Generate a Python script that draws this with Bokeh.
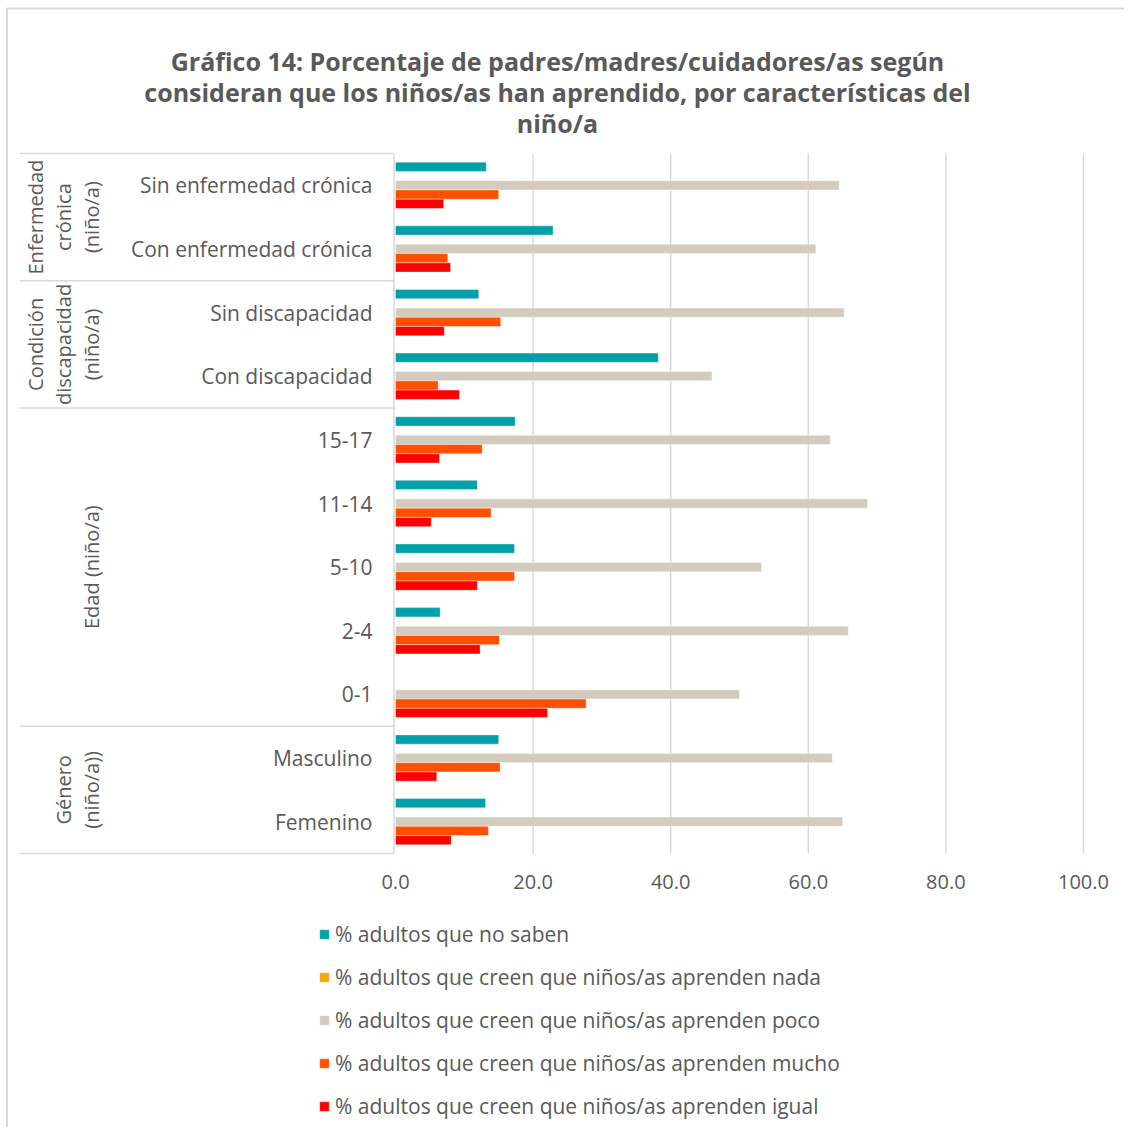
from bokeh.plotting import figure
from bokeh.models import Range1d, FixedTicker, NumeralTickFormatter, Legend, LegendItem, ColumnDataSource
from bokeh.core.properties import value
from bokeh.transform import dodge
from bokeh.embed import file_html
from bokeh.resources import INLINE

# ---------------- data ----------------
categories = ["Sin enfermedad crónica", "Con enfermedad crónica",
              "Sin discapacidad", "Con discapacidad",
              "15-17", "11-14", "5-10", "2-4", "0-1",
              "Masculino", "Femenino"]
groups = [["Enfermedad", "crónica", "(niño/a)"],
          ["Condición", "discapacidad", "(niño/a)"],
          ["Edad (niño/a)"],
          ["Género", "(niño/a))"]]
group_sizes = [2, 2, 5, 2]

series_names = ["% adultos que no saben",
                "% adultos que creen que niños/as aprenden nada",
                "% adultos que creen que niños/as aprenden poco",
                "% adultos que creen que niños/as aprenden mucho",
                "% adultos que creen que niños/as aprenden igual"]
no_saben = [13.2, 22.9, 12.1, 38.2, 17.4, 11.9, 17.3, 6.5, 0.0, 15.0, 13.1]
nada = [0.0, 0.0, 0.0, 0.0, 0.0, 0.0, 0.0, 0.0, 0.0, 0.0, 0.0]
poco = [64.5, 61.1, 65.2, 46.0, 63.2, 68.6, 53.2, 65.8, 50.0, 63.5, 65.0]
mucho = [15.0, 7.6, 15.3, 6.2, 12.6, 13.9, 17.3, 15.1, 27.7, 15.2, 13.5]
igual = [7.0, 8.0, 7.1, 9.3, 6.4, 5.2, 11.9, 12.3, 22.1, 6.0, 8.1]
x_ticks = [0, 20, 40, 60, 80, 100]

title_lines = ["Gráfico 14: Porcentaje de padres/madres/cuidadores/as según",
               "consideran que los niños/as han aprendido, por características del",
               "niño/a"]

# ---------------- layout helpers ----------------
W, H = 1124, 1127
X0_PX, XSCALE = 395.0, 6.88        # x=0 at px 395, px per unit
Y0_PX, YSCALE = 153.0, 700.0 / 11  # row area top, px per row

def px_x(px):
    return (px - X0_PX) / XSCALE

def px_y(py):
    return (py - Y0_PX) / YSCALE

FONT_NAME = "Open Sans"
FONT = value(FONT_NAME)
GREY = "#595959"
LINE = "#d9d9d9"

p = figure(width=W, height=H, output_backend="svg", toolbar_location=None,
           x_range=Range1d(px_x(0), px_x(W)),
           y_range=Range1d(px_y(H), px_y(0)),
           y_axis_location=None, min_border=0,
           min_border_left=0, min_border_right=0, min_border_top=0, min_border_bottom=0)
p.outline_line_color = None
p.xgrid.visible = False
p.ygrid.visible = False
p.background_fill_color = "white"

n = len(categories)
ypos = [i + 0.5 for i in range(n)]
src = ColumnDataSource(dict(y=ypos, no_saben=no_saben, nada=nada, poco=poco,
                            mucho=mucho, igual=igual, cat=categories))

# grid lines (only across the row area)
gx = [t for t in x_ticks if t > 0]
p.segment(x0=gx, x1=gx, y0=[0] * len(gx), y1=[n] * len(gx), line_color=LINE, line_width=1.5)

# bars
bar_h = 9.26 / YSCALE
colors = ["#00A0A8", "#F2A900", "#D3CBBD", "#FF4F00", "#FF0000"]
fields = ["no_saben", "nada", "poco", "mucho", "igual"]
renderers = []
for k, (f, c) in enumerate(zip(fields, colors)):
    r = p.hbar(y=dodge("y", (k - 2) * bar_h, range=p.y_range), right=f, left=0,
               height=bar_h, source=src, fill_color=c, line_color="white", line_width=0.4)
    renderers.append(r)

# axis line (vertical) and category separators
p.segment(x0=[px_x(393.5)], x1=[px_x(393.5)], y0=[0], y1=[n], line_color=LINE, line_width=1.5)
bounds = [0]
for s in group_sizes:
    bounds.append(bounds[-1] + s)
p.segment(x0=[px_x(19)] * len(bounds), x1=[px_x(393.5)] * len(bounds),
          y0=bounds, y1=bounds, line_color=LINE, line_width=1.5)

# outer chart border (left and top)
p.segment(x0=[px_x(6.5), px_x(6.5)], x1=[px_x(6.5), px_x(W)],
          y0=[px_y(8), px_y(8)], y1=[px_y(H), px_y(8)],
          line_color=LINE, line_width=2)

# category labels
p.text(x=[px_x(372)] * n, y=ypos, text=categories, text_align="right", text_baseline="middle",
       text_font=FONT, text_font_size="21px", text_color=GREY)

# group labels (rotated)
gx_list, gy_list, gt_list = [], [], []
for gi, lines in enumerate(groups):
    yc = (bounds[gi] + bounds[gi + 1]) / 2
    m = len(lines)
    for j, t in enumerate(lines):
        gx_list.append(px_x(91 - (m - 1 - j) * 28))
        gy_list.append(yc)
        gt_list.append(t)
p.text(x=gx_list, y=gy_list, text=gt_list, angle=1.5707963, text_align="center",
       text_baseline="middle", text_font=FONT, text_font_size="20px", text_color=GREY)

# title
p.text(x=[px_x(557)] * 3, y=[px_y(60), px_y(91), px_y(122)], text=title_lines,
       text_align="center", text_baseline="middle", text_font=FONT,
       text_font_size="25px", text_font_style="bold", text_color=GREY)

# x axis placed at the bottom of the row area
ax = p.xaxis[0]
ax.fixed_location = n
ax.ticker = FixedTicker(ticks=x_ticks)
ax.formatter = NumeralTickFormatter(format="0.0")
ax.axis_line_color = None
ax.major_tick_line_color = None
ax.minor_tick_line_color = None
ax.major_tick_out = 0
ax.major_tick_in = 0
ax.major_label_standoff = 21
ax.major_label_text_font = FONT_NAME
ax.major_label_text_font_size = "20px"
ax.major_label_text_color = GREY

# legend
legend = Legend(items=[LegendItem(label=nm, renderers=[r]) for nm, r in zip(series_names, renderers)],
                location=(318, H - 1120), orientation="vertical",
                glyph_width=12, glyph_height=12, label_height=20, spacing=15,
                padding=0, margin=0, border_line_color=None, background_fill_alpha=0,
                label_text_font=FONT_NAME, label_text_font_size="21px",
                label_text_color=GREY, label_standoff=5)
p.add_layout(legend)

open("out.html", "w").write(file_html(p, INLINE))
